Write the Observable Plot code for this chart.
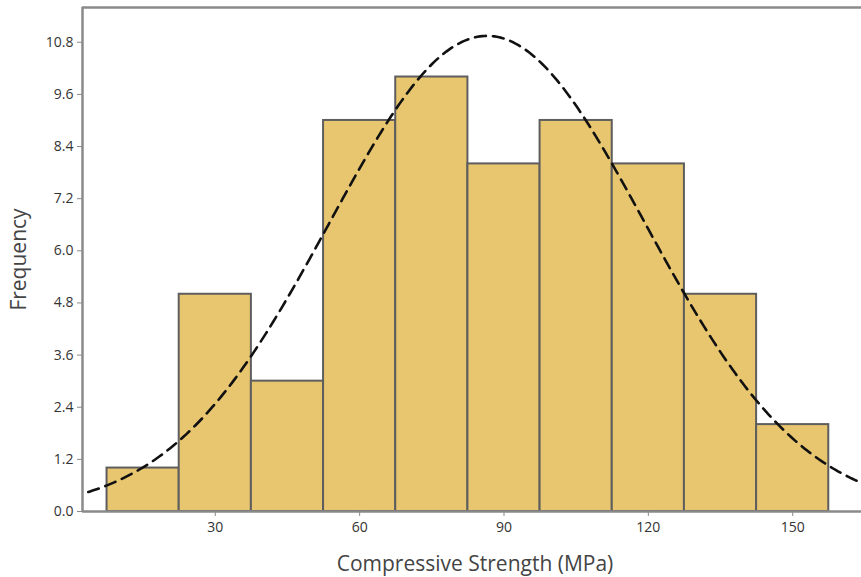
<!DOCTYPE html>
<html>
<head>
<meta charset="utf-8">
<script src="https://cdn.jsdelivr.net/npm/d3@7"></script>
<script src="https://cdn.jsdelivr.net/npm/@observablehq/plot@0.6"></script>
<style>
  html, body { margin: 0; padding: 0; background: #fff; }
</style>
</head>
<body>
<div id="chart"></div>
<script>
// Histogram bins (lower edges, width 15 MPa) and frequencies
const binLower = [7.5, 22.5, 37.5, 52.5, 67.5, 82.5, 97.5, 112.5, 127.5, 142.5];
const binWidth = 15;
const counts = [1, 5, 3, 9, 10, 8, 9, 8, 5, 2];
// Fitted normal curve parameters
const fitMean = 86.5;
const fitSd = 32.8;
const xTicks = [30, 60, 90, 120, 150];
const yTicks = [0, 1.2, 2.4, 3.6, 4.8, 6.0, 7.2, 8.4, 9.6, 10.8];
const xLabel = "Compressive Strength (MPa)";
const yLabel = "Frequency";

const bars = binLower.map((lo, i) => ({x1: lo, x2: lo + binWidth, count: counts[i]}));
const total = d3.sum(counts);
const curve = d3.range(0, 171, 0.5).map(x => ({
  x,
  y: total * binWidth / (fitSd * Math.sqrt(2 * Math.PI)) * Math.exp(-0.5 * ((x - fitMean) / fitSd) ** 2)
}));

const gray = "#8a8a8a";
const chart = Plot.plot({
  width: 861,
  height: 577,
  marginLeft: 82,
  marginRight: 0,
  marginTop: 7,
  marginBottom: 66,
  style: {fontFamily: "'Open Sans', sans-serif", fontSize: "14px", color: "#333", background: "#fff"},
  x: {domain: [2.4, 164.3]},
  y: {domain: [0, 11.6]},
  marks: [
    Plot.rect(bars, {x1: "x1", x2: "x2", y1: 0, y2: "count", fill: "#e8c56f", stroke: "#5e5e5e", strokeWidth: 2}),
    Plot.line(curve, {x: "x", y: "y", stroke: "#111", strokeWidth: 2.6, strokeDasharray: "11,7", clip: true}),
    Plot.ruleX([2.4], {stroke: gray, strokeWidth: 2.5}),
    Plot.ruleY([0], {stroke: gray, strokeWidth: 2.5}),
    Plot.ruleY([11.6], {stroke: gray, strokeWidth: 2.5}),
    Plot.axisX({ticks: xTicks, tickSize: 5, tickPadding: 6, stroke: gray, label: null, fontSize: 14}),
    Plot.axisY({ticks: yTicks, tickSize: 5, tickPadding: 4, stroke: gray, label: null, fontSize: 14, tickFormat: d => d.toFixed(1)}),
    Plot.text([xLabel], {frameAnchor: "bottom", dy: 53, dx: 3, lineAnchor: "middle", textAnchor: "middle", fontSize: 21, fill: "#444"}),
    Plot.text([yLabel], {frameAnchor: "left", dx: -63, rotate: -90, lineAnchor: "middle", textAnchor: "middle", fontSize: 21, fill: "#444"})
  ]
});
document.getElementById("chart").appendChild(chart);
</script>
</body>
</html>
